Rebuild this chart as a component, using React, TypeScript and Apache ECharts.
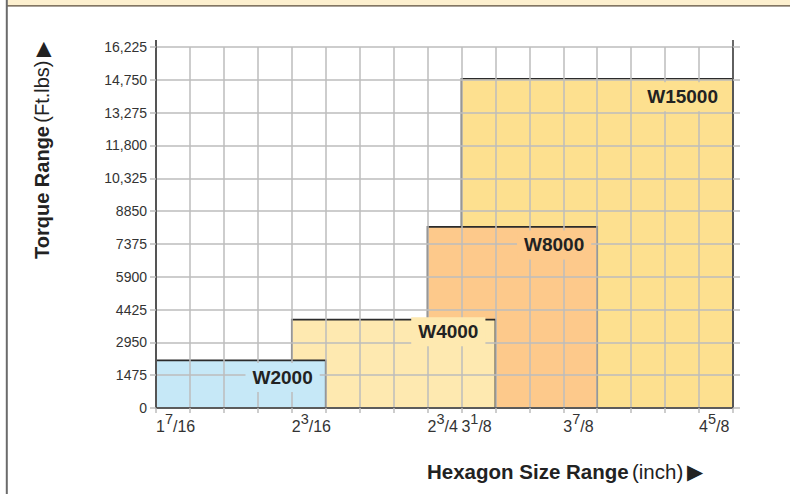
import React, { useEffect, useRef } from 'react';
import * as echarts from 'echarts';

// ---- data ----
const models = ['W2000', 'W4000', 'W8000', 'W15000'];
// hexagon size range expressed in 3/16" grid steps from 1 7/16"
const hexStartStep = [0, 4, 8, 9];
const hexEndStep = [5, 10, 13, 17];
const torqueMax = [2140, 3970, 8140, 14800];

const yMin = 0;
const yMax = 16225;
const yInterval = 1475;

const xTickSteps = [0, 4, 8, 9, 12, 16];
const xTickWhole = ['1', '2', '2', '3', '3', '4'];
const xTickNum = ['7', '3', '3', '1', '7', '5'];
const xTickDen = ['16', '16', '4', '8', '8', '8'];

// ---- styles ----
const fills = ['#c6e8f7', '#fee9b0', '#fdc98b', '#fde08f'];
const labelGapRight = [6, 10, 6, 8];
const labelDy = [17, 12, 18, 18];
const FONT = '"Liberation Sans", Arial, Helvetica, sans-serif';
const GRID_COLOR = '#bcbcbc';

export default function App() {
  const ref = useRef<HTMLDivElement>(null);

  useEffect(() => {
    if (!ref.current) return;
    const chart = echarts.init(ref.current, undefined, { renderer: 'svg' });

    const items = models.map((m, i) => [hexStartStep[i], hexEndStep[i], torqueMax[i], i]);
    const drawOrder = items.slice().reverse();

    const option: any = {
      animation: false,
      grid: { left: 156, right: 57, top: 47, bottom: 86 },
      xAxis: {
        type: 'value',
        min: 0,
        max: 17,
        interval: 1,
        z: 3,
        axisLine: { show: true, lineStyle: { color: '#444', width: 1.6 } },
        axisTick: { show: true, length: 5, lineStyle: { color: GRID_COLOR, width: 1.5 } },
        splitLine: { show: true, lineStyle: { color: GRID_COLOR, width: 1.5 } },
        axisLabel: {
          margin: 3,
          align: 'left',
          color: '#333',
          fontFamily: FONT,
          formatter: (v: number) => {
            const k = xTickSteps.indexOf(v);
            if (k < 0) return '';
            return `{b|${xTickWhole[k]}}{s|${xTickNum[k]}}{b|/${xTickDen[k]}}`;
          },
          rich: {
            b: { fontSize: 16, padding: [7, 0, 0, 0], verticalAlign: 'bottom', color: '#333', fontFamily: FONT },
            s: { fontSize: 14.5, verticalAlign: 'top', color: '#333', fontFamily: FONT },
          },
        },
      },
      yAxis: [
        {
          type: 'value',
          position: 'left',
          min: yMin,
          max: yMax,
          interval: yInterval,
          z: 3,
          axisLine: { show: true, lineStyle: { color: '#555', width: 2 } },
          axisTick: { show: true, length: 6, lineStyle: { color: GRID_COLOR, width: 1.5 } },
          splitLine: { show: true, lineStyle: { color: GRID_COLOR, width: 1.5 } },
          axisLabel: {
            margin: 9,
            color: '#333',
            fontSize: 14,
            fontFamily: FONT,
            formatter: (v: number) => (v >= 10000 ? v.toLocaleString('en-US') : String(v)),
          },
        },
        {
          type: 'value',
          position: 'right',
          min: yMin,
          max: yMax,
          interval: yInterval,
          z: 3,
          axisLine: { show: true, lineStyle: { color: '#444', width: 1.6 } },
          axisTick: { show: true, length: 7, lineStyle: { color: GRID_COLOR, width: 1.5 } },
          splitLine: { show: false },
          axisLabel: { show: false },
        },
      ],
      series: [
        {
          type: 'custom',
          z: 1,
          data: drawOrder,
          encode: { x: [0, 1], y: 2 },
          renderItem: (params: any, api: any) => {
            const x0 = api.value(0);
            const x1 = api.value(1);
            const t = api.value(2);
            const idx = api.value(3);
            const p0 = api.coord([x0, t]);
            const p1 = api.coord([x1, 0]);
            return {
              type: 'rect',
              shape: { x: p0[0], y: p0[1], width: p1[0] - p0[0], height: p1[1] - p0[1] },
              style: { fill: fills[idx], stroke: '#2b2b2b', lineWidth: 1.6 },
            };
          },
        },
        {
          type: 'custom',
          z: 5,
          data: items,
          encode: { x: [0, 1], y: 2 },
          renderItem: (params: any, api: any) => {
            const x1 = api.value(1);
            const t = api.value(2);
            const idx = api.value(3);
            const p = api.coord([x1, t]);
            return {
              type: 'text',
              x: p[0] - labelGapRight[idx],
              y: p[1] + labelDy[idx],
              style: {
                text: models[idx],
                align: 'right',
                verticalAlign: 'middle',
                font: `bold 19px ${FONT}`,
                fill: '#222',
                backgroundColor: fills[idx],
                padding: [5, 7, 5, 7],
              },
            };
          },
        },
      ],
      graphic: [
        { type: 'rect', shape: { x: 7, y: 0, width: 790, height: 5.4 }, style: { fill: '#fdf0cf' } },
        { type: 'line', shape: { x1: 7, y1: 5.9, x2: 790, y2: 5.9 }, style: { stroke: '#5a4b36', lineWidth: 1.2 } },
        { type: 'line', shape: { x1: 6.8, y1: 0, x2: 6.8, y2: 494 }, style: { stroke: '#6b6b6b', lineWidth: 2 } },
        { type: 'line', shape: { x1: 156, y1: 40, x2: 156, y2: 47 }, style: { stroke: '#555', lineWidth: 2 } },
        { type: 'line', shape: { x1: 733, y1: 40, x2: 733, y2: 47 }, style: { stroke: '#444', lineWidth: 1.6 } },
        {
          type: 'text',
          x: 42,
          y: 259,
          rotation: Math.PI / 2,
          style: {
            text: '{b|Torque Range} {n|(Ft.lbs)} {n|▶}',
            align: 'left',
            verticalAlign: 'middle',
            rich: {
              b: { fontSize: 20, fontWeight: 'bold', fill: '#222', fontFamily: FONT },
              n: { fontSize: 20, fill: '#222', fontFamily: FONT },
            },
          },
        },
        {
          type: 'text',
          x: 427,
          y: 471,
          style: {
            text: '{b|Hexagon Size Range} {n|(inch)} {n|▶}',
            align: 'left',
            verticalAlign: 'middle',
            rich: {
              b: { fontSize: 20.5, fontWeight: 'bold', fill: '#222', fontFamily: FONT },
              n: { fontSize: 20.5, fill: '#222', fontFamily: FONT },
            },
          },
        },
      ],
    };

    chart.setOption(option);
    return () => chart.dispose();
  }, []);

  return (
    <div
      ref={ref}
      style={{ position: 'absolute', left: 0, top: 0, width: 790, height: 494, background: '#fff' }}
    />
  );
}
